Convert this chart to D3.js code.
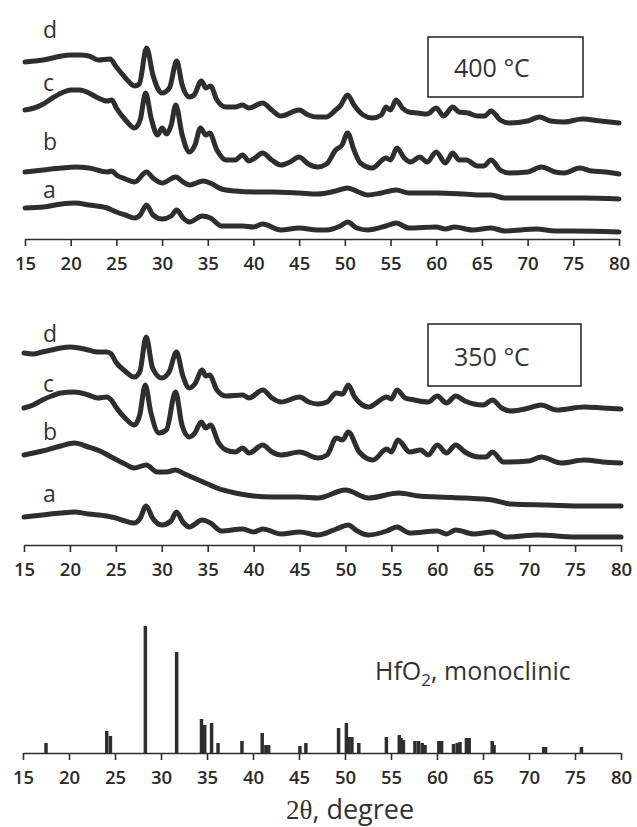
<!DOCTYPE html>
<html>
<head>
<meta charset="utf-8">
<script src="https://cdn.jsdelivr.net/npm/d3@7"></script>
<style>
  html, body { margin: 0; padding: 0; background: #ffffff; }
  svg { display: block; }
</style>
</head>
<body>
<svg id="chart" width="637" height="827"></svg>
<script>
// ---------- DATA ----------
const xTicks = [15, 20, 25, 30, 35, 40, 45, 50, 55, 60, 65, 70, 75, 80];
const traceLabels = ["a", "b", "c", "d"];
const panelTitles = ["400 \u00B0C", "350 \u00B0C"];

// 400 °C panel, intensity (arb. units, stacked) vs 2θ
const t400_d = [[15,177],[16,178],[17,179],[18,181],[19,183],[20,184],[21,184],[22,183],[23,179],[24.3,180],[25,172],[26,161],[27,153],[27.5,155],[28.3,191],[29,164],[29.5,151],[30,146],[30.8,151],[31.6,178],[32.2,154],[33,142],[33.5,144],[34.3,158],[34.8,151],[35.3,153],[36,139],[37,132],[38,132],[38.8,134],[39.5,131],[41,136],[42,129],[43,123],[45,129],[46,124],[47,122],[48,122],[49,129],[49.5,133],[50.3,144],[51,134],[52,124],[53,121],[54,124],[54.5,132],[55,129],[55.6,139],[56.3,131],[57,127],[58,126],[59,125],[60,131],[60.8,123],[61.8,132],[62.5,127],[63.5,126],[64.5,123],[65.3,123],[66,128],[67,119],[68,116],[70,118],[71.3,122],[72.5,118],[74,117],[76,120],[78,118],[80,116]];
const t400_c = [[15,129],[16,131],[17,135],[18,141],[19,146],[20,149],[21,149],[22,146],[23,141],[24,138],[24.5,139],[25,131],[26,119],[27,111],[27.6,119],[28.2,146],[28.8,121],[29.5,104],[30,111],[30.5,105],[31,114],[31.5,134],[32.2,104],[33,87],[33.6,94],[34.2,111],[34.8,104],[35.2,106],[36,89],[37,79],[38,79],[38.8,84],[39.5,78],[40,80],[41,86],[42,79],[43,74],[44,77],[45,82],[46,75],[47,72],[48,75],[49,89],[49.7,94],[50.3,106],[51,89],[51.7,76],[53,71],[54.5,81],[55,79],[55.7,91],[56.5,81],[57.2,77],[58.2,82],[59,77],[60,87],[61,76],[61.8,86],[62.5,79],[63.3,79],[64.5,73],[65.2,73],[66,79],[67,69],[68,66],[70,67],[71.5,72],[73,67],[74,66],[75.7,71],[77,68],[78.5,67],[80,65]];
const t400_b = [[15,67],[17,69],[19,71],[20.5,72],[22,71],[24,67],[24.5,68],[25,64],[26,60],[27,57],[28.3,67],[29,61],[30,56],[31.5,62],[32.3,57],[33,54],[34.5,58],[35.5,55],[36.5,50],[38,48],[40,47],[42,47],[45,46],[47,45],[49,48],[50.3,51],[51.5,47],[52.5,44],[54,46],[55.6,49],[57,46],[60,46],[63,45],[65,44],[66,44],[67.5,41],[70,41],[73,41],[76,41],[80,40]];
const t400_a = [[15,31],[17,32],[19,35],[20.5,36],[22,34],[24,31],[24.5,29],[25,27],[26,24],[27,21],[27.6,24],[28.3,34],[29,24],[30,20],[31,23],[31.6,29],[32.3,21],[33,17],[34.4,23],[35.3,21],[36.5,13],[38.8,13],[40,12],[41,15],[43,9],[45,11],[47,9],[48,9],[49.5,13],[50.3,17],[51.3,11],[52.5,9],[54.5,13],[55.6,16],[57,11],[60,12],[61,10],[62,12],[64,9],[66,11],[67.5,8],[71,10],[73,8],[75,8],[80,7]];

// 350 °C panel
const t350_d = [[15,192],[16,191],[17,193],[18,195],[19,197],[20,198],[21,197],[22,195],[23,193],[24,193],[24.5,191],[25,183],[26,174],[27,168],[27.6,173],[28.3,208],[29,177],[30,167],[30.8,173],[31.6,193],[32.3,169],[33,157],[33.6,161],[34.4,175],[34.8,169],[35.2,170],[36,155],[37,149],[38.8,150],[39.5,147],[41,155],[42,147],[43,143],[45,148],[46,143],[47,141],[48,143],[49,152],[49.7,151],[50.3,160],[51,148],[52.5,138],[54.5,148],[55,146],[55.6,155],[56.5,147],[57.5,145],[59,143],[60,149],[61,142],[62,149],[63,144],[65,140],[66,145],[67,137],[68,134],[70,137],[71.3,140],[73,135],[76,138],[78,137],[80,136]];
const t350_c = [[15,137],[16,140],[17,145],[18,149],[19,152],[20.5,153],[22,150],[23,147],[24,148],[24.5,145],[25,138],[26,127],[27,120],[27.6,130],[28.2,160],[28.8,133],[29.7,112],[30.5,115],[31.5,153],[32.2,120],[33,108],[33.6,112],[34.3,123],[34.8,117],[35.3,120],[36.2,102],[37,95],[38,93],[38.8,97],[39.5,92],[41,100],[42,93],[43,90],[45,93],[47,87],[48,90],[49,107],[49.7,105],[50.3,113],[51.5,93],[53,85],[54.5,96],[55,93],[55.7,105],[57,93],[58.2,95],[59,90],[60,100],[61,92],[62,100],[63,93],[64.5,88],[65.3,88],[66,93],[67.2,83],[70,84],[71.3,88],[73.5,82],[76,85],[78,83],[80,82]];
const t350_b = [[15,90],[17,94],[19,99],[20.5,102],[22,98],[23.5,93],[24.5,88],[26,81],[27,77],[28.3,80],[29.5,73],[30.5,73],[31.5,75],[32.5,71],[34,65],[35,61],[36,57],[38,52],[40,49],[42,48],[45,48],[47,47],[50,55],[52.5,47],[55.8,52],[58,49],[60,48],[63,47],[65,46],[66,45],[68,41],[72,40],[76,39],[80,39]];
const t350_a = [[15,28],[17,30],[19,32],[20.5,33],[22,31],[24,29],[24.5,28],[25,27],[26,24],[27,22],[27.6,26],[28.3,39],[29,27],[30,20],[31,24],[31.6,33],[32.3,23],[33,18],[34.4,25],[35.3,22],[36.5,14],[38.8,16],[40,13],[41,16],[43,11],[45,13],[47,10],[49,16],[50.3,20],[51.3,14],[52.5,10],[54.5,14],[55.6,18],[57,12],[60,14],[61,11],[62,15],[64,11],[66,13],[67.5,8],[71,10],[75,8],[80,8]];

// Reference pattern: HfO2, monoclinic (2θ, relative intensity)
const refTheta = [17.5,24.1,24.5,28.3,31.7,34.4,34.75,35.5,36.2,38.8,41.0,41.4,41.7,45.1,45.75,49.3,50.15,50.4,50.75,51.5,54.5,55.9,56.1,56.35,57.6,58.0,58.4,58.7,60.2,60.5,61.8,62.2,62.5,63.2,63.5,66.0,66.2,71.6,71.8,75.7];
const refIntensity = [10,22,17,127,101,34,28,30,10,12,20,8,8,7,10,25,30,16,16,10,16,18,15,13,12,12,10,8,12,12,9,10,11,15,15,12,8,6,6,6];

// ---------- DRAWING ----------
const svg = d3.select("#chart");
const ink = "#2e2e2e";
const sans = "'Open Sans', 'Noto Sans', sans-serif";

const panels = [
  { axisY: 239, x0: 25, x1: 619, traces: [t400_a, t400_b, t400_c, t400_d],
    labelY: [198, 150, 91, 38], title: panelTitles[0], box: [428, 37, 155, 60], titleY: 77 },
  { axisY: 545, x0: 24, x1: 621, traces: [t350_a, t350_b, t350_c, t350_d],
    labelY: [502, 440, 392, 342], title: panelTitles[1], box: [428, 324, 153, 62], titleY: 366 },
  { axisY: 753, x0: 23, x1: 621 }
];

function drawAxis(p) {
  const x = d3.scaleLinear().domain([15, 80]).range([p.x0, p.x1]);
  const g = svg.append("g").attr("transform", `translate(0,${p.axisY})`)
    .call(d3.axisBottom(x).tickValues(xTicks).tickSize(7).tickSizeOuter(0).tickPadding(11));
  g.select(".domain").attr("stroke", ink).attr("stroke-width", 1.6);
  g.selectAll(".tick line").attr("stroke", ink).attr("stroke-width", 1.6);
  g.selectAll(".tick text").attr("fill", "#2a2a2a").attr("font-family", sans)
    .attr("font-size", 18.5).attr("font-weight", 600);
  return x;
}

panels.forEach((p, i) => {
  const x = drawAxis(p);
  const y = d3.scaleLinear().domain([0, 220]).range([p.axisY, p.axisY - 220]);
  if (p.traces) {
    const line = d3.line().x(d => x(d[0])).y(d => y(d[1])).curve(d3.curveMonotoneX);
    p.traces.forEach((tr, k) => {
      svg.append("path").datum(tr).attr("d", line)
        .attr("fill", "none").attr("stroke", ink).attr("stroke-width", 5)
        .attr("stroke-linejoin", "round").attr("stroke-linecap", "round");
      svg.append("text").attr("x", 43).attr("y", p.labelY[k])
        .attr("font-family", sans).attr("font-size", 23).attr("fill", "#333")
        .text(traceLabels[k]);
    });
    svg.append("rect").attr("x", p.box[0]).attr("y", p.box[1])
      .attr("width", p.box[2]).attr("height", p.box[3])
      .attr("fill", "none").attr("stroke", ink).attr("stroke-width", 1.6);
    svg.append("text").attr("x", 454).attr("y", p.titleY)
      .attr("font-family", sans).attr("font-size", 25).attr("fill", "#333")
      .text(p.title);
  } else {
    svg.append("g").selectAll("line").data(refTheta).join("line")
      .attr("x1", d => x(d)).attr("x2", d => x(d))
      .attr("y1", y(0)).attr("y2", (d, j) => y(refIntensity[j]))
      .attr("stroke", ink).attr("stroke-width", 3.5);
    const t = svg.append("text").attr("x", 375).attr("y", 680)
      .attr("font-family", sans).attr("font-size", 25).attr("fill", "#333");
    t.append("tspan").text("HfO");
    t.append("tspan").attr("font-size", 17).attr("dy", 6).text("2");
    t.append("tspan").attr("dy", -6).text(", monoclinic");
  }
});

// x-axis title
const xt = svg.append("text").attr("x", 286).attr("y", 819)
  .attr("font-size", 27).attr("fill", "#333");
xt.append("tspan").attr("font-family", "'Liberation Serif', 'DejaVu Serif', serif").text("2\u03B8");
xt.append("tspan").attr("font-family", sans).text(", degree");
</script>
</body>
</html>
